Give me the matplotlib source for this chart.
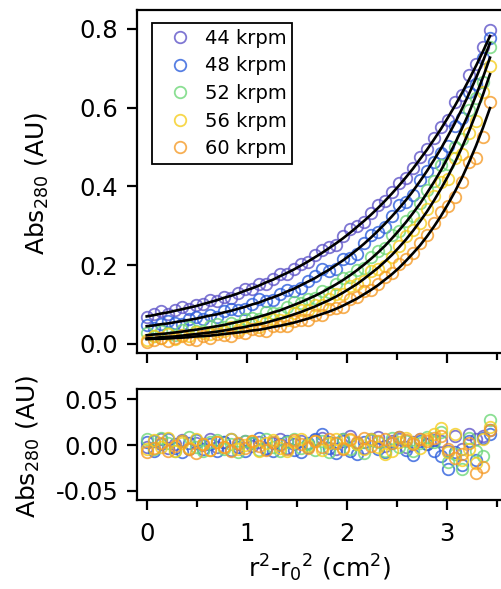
import matplotlib
matplotlib.use("Agg")
import numpy as np
import matplotlib.pyplot as plt

# --- DATA ---
# radial coordinate r^2 - r0^2 (cm^2), shared by all five speeds
x_vals = [0.00, 0.07, 0.14, 0.21, 0.28, 0.35, 0.42, 0.49, 0.56, 0.63,
          0.70, 0.77, 0.84, 0.91, 0.98, 1.05, 1.12, 1.19, 1.26, 1.33,
          1.40, 1.47, 1.54, 1.61, 1.68, 1.75, 1.82, 1.89, 1.96, 2.03,
          2.10, 2.17, 2.24, 2.31, 2.38, 2.45, 2.52, 2.59, 2.66, 2.73,
          2.80, 2.87, 2.94, 3.01, 3.08, 3.15, 3.22, 3.29, 3.36, 3.43]

speeds = ["44 krpm", "48 krpm", "52 krpm", "56 krpm", "60 krpm"]

# fitted curves (black lines)
fit_44 = [0.070, 0.073, 0.077, 0.080, 0.084, 0.088, 0.092, 0.096, 0.101, 0.106,
          0.111, 0.117, 0.122, 0.128, 0.135, 0.141, 0.148, 0.156, 0.163, 0.172,
          0.180, 0.189, 0.199, 0.209, 0.220, 0.231, 0.243, 0.255, 0.268, 0.282,
          0.297, 0.312, 0.328, 0.345, 0.363, 0.382, 0.402, 0.423, 0.445, 0.469,
          0.493, 0.519, 0.546, 0.575, 0.605, 0.637, 0.671, 0.706, 0.743, 0.782]
fit_48 = [0.045, 0.047, 0.050, 0.052, 0.055, 0.058, 0.061, 0.064, 0.068, 0.072,
          0.075, 0.080, 0.084, 0.089, 0.094, 0.100, 0.105, 0.112, 0.118, 0.125,
          0.133, 0.140, 0.149, 0.158, 0.167, 0.178, 0.188, 0.200, 0.212, 0.225,
          0.239, 0.254, 0.270, 0.287, 0.305, 0.324, 0.344, 0.365, 0.388, 0.413,
          0.439, 0.467, 0.496, 0.528, 0.561, 0.597, 0.635, 0.675, 0.718, 0.764]
fit_52 = [0.022, 0.024, 0.025, 0.027, 0.029, 0.031, 0.034, 0.036, 0.039, 0.042,
          0.045, 0.048, 0.052, 0.056, 0.060, 0.064, 0.069, 0.074, 0.080, 0.085,
          0.092, 0.099, 0.106, 0.114, 0.122, 0.131, 0.141, 0.151, 0.162, 0.174,
          0.187, 0.201, 0.216, 0.232, 0.249, 0.268, 0.288, 0.309, 0.332, 0.356,
          0.383, 0.411, 0.441, 0.474, 0.509, 0.547, 0.587, 0.631, 0.677, 0.727]
fit_56 = [0.014, 0.015, 0.017, 0.018, 0.019, 0.021, 0.023, 0.025, 0.027, 0.029,
          0.031, 0.034, 0.037, 0.040, 0.043, 0.047, 0.050, 0.054, 0.059, 0.064,
          0.069, 0.075, 0.081, 0.088, 0.095, 0.103, 0.111, 0.120, 0.130, 0.141,
          0.152, 0.165, 0.179, 0.193, 0.209, 0.226, 0.245, 0.265, 0.287, 0.311,
          0.336, 0.364, 0.394, 0.426, 0.461, 0.499, 0.540, 0.585, 0.633, 0.685]
fit_60 = [0.012, 0.013, 0.013, 0.014, 0.015, 0.016, 0.017, 0.019, 0.020, 0.021,
          0.023, 0.025, 0.027, 0.029, 0.031, 0.034, 0.036, 0.039, 0.043, 0.046,
          0.050, 0.054, 0.059, 0.064, 0.070, 0.076, 0.082, 0.089, 0.097, 0.106,
          0.115, 0.126, 0.137, 0.149, 0.163, 0.177, 0.193, 0.211, 0.230, 0.250,
          0.273, 0.298, 0.325, 0.355, 0.387, 0.422, 0.461, 0.503, 0.549, 0.599]

# residuals (data - fit), bottom panel
res_44 = [-0.002, 0.004, 0.006, -0.003, 0.001, 0.005, -0.004, 0.002, 0.000, 0.006,
          -0.002, 0.003, -0.005, 0.001, 0.004, -0.001, 0.003, -0.004, 0.002, 0.006,
          -0.003, 0.001, 0.004, -0.002, 0.005, 0.008, 0.003, -0.004, 0.006, 0.010,
          0.002, -0.003, 0.005, 0.009, -0.001, 0.004, 0.007, -0.002, 0.003, 0.006,
          0.001, 0.005, 0.004, -0.006, 0.010, -0.004, 0.012, 0.006, 0.010, 0.016]
res_48 = [0.003, -0.006, 0.001, 0.007, -0.003, -0.008, 0.002, 0.005, -0.004, 0.001,
          -0.007, 0.003, 0.006, -0.002, -0.006, 0.002, 0.008, -0.003, -0.007, 0.001,
          0.004, -0.005, -0.008, 0.002, 0.006, 0.012, -0.003, -0.009, 0.004, -0.006,
          -0.010, 0.003, 0.007, -0.004, -0.008, 0.002, 0.009, -0.005, -0.011, 0.004,
          0.001, -0.006, -0.012, -0.026, -0.008, -0.022, 0.004, -0.016, 0.008, 0.012]
res_52 = [0.006, -0.004, 0.008, 0.002, -0.006, 0.004, 0.009, -0.002, -0.007, 0.003,
          0.005, -0.004, 0.001, -0.008, 0.004, 0.002, -0.005, 0.006, -0.002, -0.006,
          0.003, 0.007, -0.003, 0.001, -0.005, 0.004, -0.008, 0.002, 0.006, -0.004,
          0.001, -0.009, 0.005, 0.003, -0.006, 0.008, -0.002, 0.004, -0.007, 0.002,
          0.009, 0.003, 0.014, -0.018, -0.010, -0.026, 0.008, -0.006, -0.012, 0.027]
res_56 = [-0.004, 0.005, -0.002, 0.008, -0.006, 0.002, -0.003, 0.006, 0.001, -0.005,
          0.003, -0.002, 0.007, -0.004, 0.000, 0.004, -0.006, 0.002, 0.005, -0.003,
          -0.007, 0.003, 0.006, -0.001, 0.004, -0.005, 0.002, 0.007, -0.003, 0.005,
          0.001, -0.004, 0.006, -0.002, -0.010, -0.006, 0.003, 0.008, 0.002, -0.003,
          0.007, 0.012, 0.018, -0.008, 0.012, -0.016, -0.004, -0.020, 0.006, 0.020]
res_60 = [-0.008, -0.003, 0.002, -0.006, -0.001, 0.004, -0.004, -0.009, 0.001, -0.005,
          0.003, -0.002, -0.007, 0.002, -0.003, 0.004, -0.001, -0.005, 0.003, 0.000,
          -0.004, 0.005, 0.001, -0.003, 0.004, -0.002, 0.006, 0.002, -0.004, 0.007,
          0.003, 0.008, -0.001, 0.004, 0.006, 0.002, 0.009, 0.005, 0.001, 0.007,
          0.004, 0.008, 0.010, -0.004, -0.014, -0.010, 0.002, -0.030, -0.024, 0.016]

fits = [fit_44, fit_48, fit_52, fit_56, fit_60]
resids = [res_44, res_48, res_52, res_56, res_60]
colors = ["#5f55c8", "#2d5fdc", "#6ed778", "#f5cd1e", "#f59b28"]

# --- STYLE ---
plt.rcParams["font.family"] = ["DejaVu Sans"]
plt.rcParams["mathtext.fontset"] = "dejavusans"
plt.rcParams["axes.unicode_minus"] = False

W, H = 501, 589
fig = plt.figure(figsize=(W / 100, H / 100), dpi=100)

# axes boxes in pixels: left, top, right, bottom
def px_axes(left, top, right, bottom):
    return fig.add_axes([left / W, 1 - bottom / H, (right - left) / W, (bottom - top) / H])

ax_top = px_axes(137, 10, 507, 353)
ax_bot = px_axes(137, 389, 507, 500)

xlim = (-0.097, 3.6)
mk = dict(marker="o", ls="none", mfc="none", ms=8.3, mew=1.3, alpha=0.8)

# top: data + fits
for lab, col, fit, res in zip(speeds, colors, fits, resids):
    data = np.array(fit) + np.array(res)
    ax_top.plot(x_vals, data, mec=col, label=lab, **mk)
for fit in fits:
    ax_top.plot(x_vals, fit, color="black", lw=1.9, zorder=5)

# bottom: residuals
for col, res in zip(colors, resids):
    ax_bot.plot(x_vals, res, mec=col, **mk)

ax_top.set_xlim(*xlim)
ax_top.set_ylim(-0.023, 0.848)
ax_top.set_yticks([0.0, 0.2, 0.4, 0.6, 0.8])
ax_top.set_yticklabels(["0.0", "0.2", "0.4", "0.6", "0.8"])

ax_bot.set_xlim(*xlim)
ax_bot.set_ylim(-0.0598, 0.0609)
ax_bot.set_yticks([-0.05, 0.0, 0.05])
ax_bot.set_yticklabels(["-0.05", "0.00", "0.05"])

for ax in (ax_top, ax_bot):
    ax.set_xticks([0, 1, 2, 3])
    ax.set_xticks([0.5, 1.5, 2.5, 3.5], minor=True)
    for sp in ax.spines.values():
        sp.set_linewidth(1.6)
    ax.tick_params(axis="both", which="major", direction="out", length=7.5,
                   width=1.6, labelsize=17.5, colors="black")
    ax.tick_params(axis="x", which="minor", direction="out", length=5, width=1.6)
    ax.tick_params(axis="y", pad=6)
    ax.tick_params(axis="x", pad=8)

ax_top.tick_params(axis="x", labelbottom=False)

leg = ax_top.legend(loc="upper left", bbox_to_anchor=(0.0406, 0.962), borderaxespad=0,
                    fontsize=14, frameon=True, fancybox=False, framealpha=1,
                    edgecolor="black", borderpad=0.3, labelspacing=0.44,
                    handlelength=2.3, handletextpad=0.1, numpoints=1)
leg.get_frame().set_linewidth(1.3)

# axis labels
fig.text(37.5 / W, 1 - 183 / H, r"Abs$_{280}$ (AU)", rotation=90,
         ha="center", va="center", fontsize=18)
fig.text(28.5 / W, 1 - 446 / H, r"Abs$_{280}$ (AU)", rotation=90,
         ha="center", va="center", fontsize=18)
fig.text(320 / W, 1 - 577 / H, r"r$^2$-r$_0$$^2$ (cm$^2$)",
         ha="center", va="baseline", fontsize=18)

fig.savefig("out.png", dpi=100)
